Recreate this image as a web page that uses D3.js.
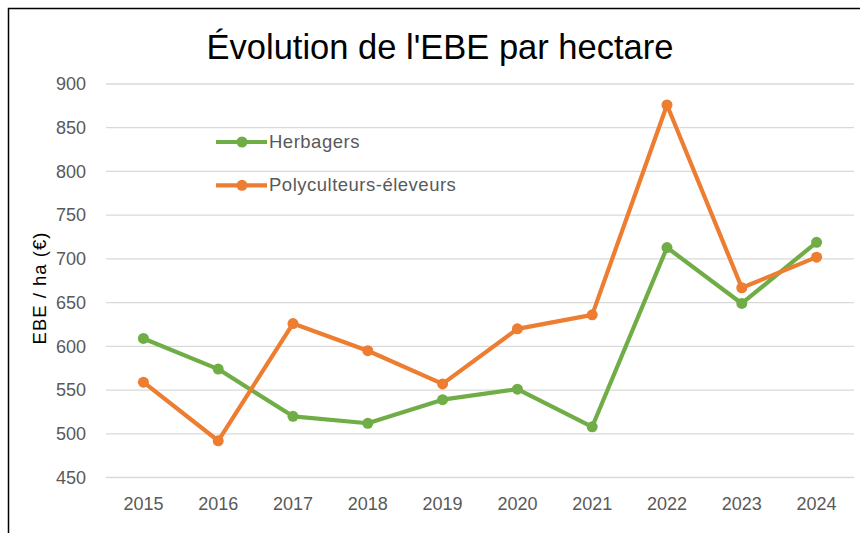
<!DOCTYPE html>
<html>
<head>
<meta charset="utf-8">
<script src="https://cdn.jsdelivr.net/npm/d3@7"></script>
<style>
  body { margin: 0; background: #fff; }
  svg { display: block; }
</style>
</head>
<body>
<svg id="chart" width="860" height="533"></svg>
<script>
// chart data
var years = ['2015', '2016', '2017', '2018', '2019', '2020', '2021', '2022', '2023', '2024'];
var herbagers = [609, 574, 520, 512, 539, 551, 508, 713, 649, 719];
var polyculteurs = [559, 492, 626, 595, 557, 620, 636, 876, 667, 702];
var seriesNames = ['Herbagers', 'Polyculteurs-éleveurs'];
var yTicks = [450, 500, 550, 600, 650, 700, 750, 800, 850, 900];

var FONT = '"Liberation Sans", Arial, sans-serif';
var COLORS = ['#70AD47', '#ED7D31'];

var svg = d3.select('#chart');

// chart area border (runs off the right and bottom edges)
svg.append('path')
    .attr('d', 'M8.5,540 V8.5 H870')
    .attr('fill', 'none')
    .attr('stroke', '#000')
    .attr('stroke-width', 1.5);

var x = d3.scaleBand().domain(years).range([106, 854]);
var y = d3.scaleLinear().domain([450, 900]).range([477.5, 84]);

// gridlines
svg.append('g')
    .selectAll('line')
    .data(yTicks)
    .enter().append('line')
    .attr('x1', 106).attr('x2', 854)
    .attr('y1', function(d) { return y(d); })
    .attr('y2', function(d) { return y(d); })
    .attr('stroke', '#d9d9d9')
    .attr('stroke-width', 1.3);

// y axis labels
var yAxis = svg.append('g')
    .attr('transform', 'translate(86,0)')
    .call(d3.axisLeft(y).tickValues(yTicks).tickSize(0).tickPadding(0));
yAxis.select('.domain').remove();
yAxis.selectAll('text')
    .attr('font-family', FONT)
    .attr('font-size', 18)
    .attr('fill', '#595959');

// x axis labels
var xAxis = svg.append('g')
    .attr('transform', 'translate(0,497.5)')
    .call(d3.axisBottom(x).tickSize(0).tickPadding(0));
xAxis.select('.domain').remove();
xAxis.selectAll('text')
    .attr('font-family', FONT)
    .attr('font-size', 18)
    .attr('fill', '#595959');

// title
svg.append('text')
    .attr('x', 440).attr('y', 59)
    .attr('text-anchor', 'middle')
    .attr('font-family', FONT)
    .attr('font-size', 34.5)
    .attr('fill', '#000')
    .text("Évolution de l'EBE par hectare");

// y axis title
svg.append('text')
    .attr('transform', 'translate(46,288) rotate(-90)')
    .attr('text-anchor', 'middle')
    .attr('font-family', FONT)
    .attr('font-size', 18.5)
    .attr('letter-spacing', 1)
    .attr('fill', '#000')
    .text('EBE / ha (€)');

// series
var series = [herbagers, polyculteurs];
var line = d3.line()
    .x(function(d, i) { return x(years[i]) + x.bandwidth() / 2; })
    .y(function(d) { return y(d); });

series.forEach(function(values, s) {
  var g = svg.append('g');
  g.append('path')
      .datum(values)
      .attr('d', line)
      .attr('fill', 'none')
      .attr('stroke', COLORS[s])
      .attr('stroke-width', 4.2)
      .attr('stroke-linejoin', 'round');
  g.selectAll('circle')
      .data(values)
      .enter().append('circle')
      .attr('cx', function(d, i) { return x(years[i]) + x.bandwidth() / 2; })
      .attr('cy', function(d) { return y(d); })
      .attr('r', 5.5)
      .attr('fill', COLORS[s]);
});

// legend
var legend = svg.append('g').attr('transform', 'translate(216,142)');
seriesNames.forEach(function(name, s) {
  var row = legend.append('g').attr('transform', 'translate(0,' + s * 43.3 + ')');
  row.append('line')
      .attr('x1', 0).attr('x2', 51)
      .attr('stroke', COLORS[s])
      .attr('stroke-width', 4.2);
  row.append('circle')
      .attr('cx', 26).attr('r', 5.5)
      .attr('fill', COLORS[s]);
  row.append('text')
      .attr('x', 53).attr('y', 5.5)
      .attr('font-family', FONT)
      .attr('font-size', 18.5)
      .attr('letter-spacing', 0.5)
      .attr('fill', '#595959')
      .text(name);
});
</script>
</body>
</html>
